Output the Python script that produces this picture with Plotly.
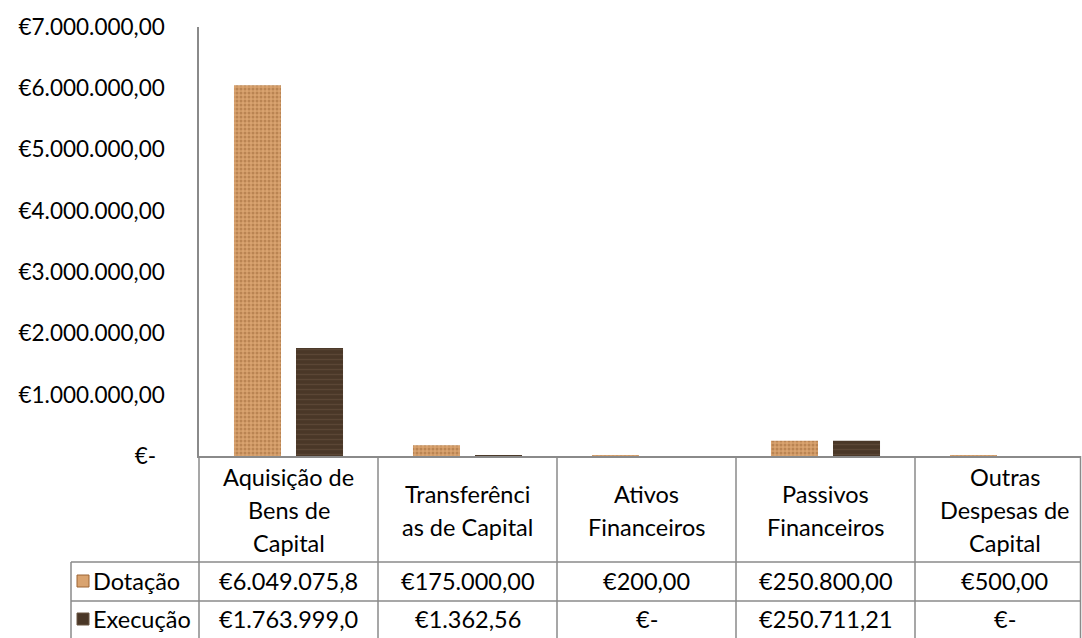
import plotly.graph_objects as go

# ---------------- data ----------------
categories = ["Aquisição de Bens de Capital", "Transferências de Capital",
              "Ativos Financeiros", "Passivos Financeiros", "Outras Despesas de Capital"]
category_lines = [["Aquisição de", "Bens de", "Capital"],
                  ["Transferênci", "as de Capital"],
                  ["Ativos", "Financeiros"],
                  ["Passivos", "Financeiros"],
                  ["Outras", "Despesas de", "Capital"]]
series_names = ["Dotação", "Execução"]
dotacao = [6049075.8, 175000.00, 200.00, 250800.00, 500.00]
execucao = [1763999.0, 1362.56, 0.0, 250711.21, 0.0]
dotacao_labels = ["€6.049.075,8", "€175.000,00", "€200,00", "€250.800,00", "€500,00"]
execucao_labels = ["€1.763.999,0", "€1.362,56", "€-", "€250.711,21", "€-"]
y_tick_values = [0, 1000000, 2000000, 3000000, 4000000, 5000000, 6000000, 7000000]
y_tick_labels = ["€-\u00a0\u2009", "€1.000.000,00", "€2.000.000,00", "€3.000.000,00",
                 "€4.000.000,00", "€5.000.000,00", "€6.000.000,00", "€7.000.000,00"]

# ---------------- layout geometry ----------------
W, H = 1082, 638
L, R, T, B = 199, 1, 27, 182
pw, ph = W - L - R, H - T - B
cat_px = 179.0
x_max = -0.5 + pw / cat_px


def py(Y):
    return (T + ph - Y) / ph


def px(X):
    return (X - L) / pw


FONT = "Lato, 'Open Sans', sans-serif"
TXT = 23.5
GRID = "#8a8a8a"
cork = dict(color="#D9A36F",
            pattern=dict(shape=".", fgcolor="#9C6535", size=4, solidity=0.45, fillmode="overlay"),
            line=dict(width=0))
wood = dict(color="#4A3727",
            pattern=dict(shape="-", fgcolor="#6B5643", size=5, solidity=0.25, fillmode="overlay"),
            line=dict(width=0))

fig = go.Figure()
fig.add_bar(x=categories, y=dotacao, name=series_names[0], marker=cork)
fig.add_bar(x=categories, y=execucao, name=series_names[1], marker=wood)

shapes = []
annotations = []

LEG_X = 71
row_lines = [562, 601]
row_centers = [581, 619]
for Y in row_lines:
    shapes.append(dict(type="line", xref="paper", yref="paper", x0=px(LEG_X), x1=1.0,
                       y0=py(Y), y1=py(Y), line=dict(color=GRID, width=1.5)))
for i in range(len(categories) + 1):
    xp = min(1.0, i / (x_max + 0.5))
    if xp == 1.0:
        xp = 1.0 - 0.5 / pw
    shapes.append(dict(type="line", xref="paper", yref="paper", x0=xp, x1=xp,
                       y0=py(456), y1=py(660), line=dict(color=GRID, width=1.5)))
shapes.append(dict(type="line", xref="paper", yref="paper", x0=px(LEG_X), x1=px(LEG_X),
                   y0=py(562), y1=py(660), line=dict(color=GRID, width=1.5)))

# header (category names)
line_gap = 33
for i, lines in enumerate(category_lines):
    n = len(lines)
    for k, t in enumerate(lines):
        Yc = 510 + (k - (n - 1) / 2) * line_gap
        annotations.append(dict(x=categories[i], xref="x", y=py(Yc), yref="paper", text=t,
                                showarrow=False, xanchor="center", yanchor="middle",
                                font=dict(family=FONT, size=TXT, color="#000000")))

# data rows with legend keys
for r, (labels, mk) in enumerate([(dotacao_labels, cork), (execucao_labels, wood)]):
    Yc = row_centers[r]
    for i, t in enumerate(labels):
        annotations.append(dict(x=categories[i], xref="x", y=py(Yc), yref="paper", text=t,
                                showarrow=False, xanchor="center", yanchor="middle",
                                font=dict(family=FONT, size=TXT, color="#000000")))
    shapes.append(dict(type="rect", xref="paper", yref="paper", x0=px(77), x1=px(89),
                       y0=py(Yc + 6), y1=py(Yc - 6), fillcolor=mk["color"],
                       line=dict(color=mk["pattern"]["fgcolor"], width=1)))
    annotations.append(dict(x=px(91), xref="paper", y=py(Yc), yref="paper", text=series_names[r],
                            showarrow=False, xanchor="left", yanchor="middle",
                            font=dict(family=FONT, size=TXT, color="#000000")))

fig.update_layout(
    width=W, height=H,
    margin=dict(l=L, r=R, t=T, b=B, pad=0),
    paper_bgcolor="#ffffff", plot_bgcolor="#ffffff",
    barmode="group", bargap=0.307, bargroupgap=0.242,
    showlegend=False,
    shapes=shapes, annotations=annotations,
    font=dict(family=FONT, size=TXT, color="#000000"),
)
fig.update_xaxes(range=[-0.5, x_max], showticklabels=False, showgrid=False,
                 showline=True, linecolor=GRID, linewidth=1.5, ticks="", zeroline=False)
fig.update_yaxes(range=[0, 7000000], tickvals=y_tick_values, ticktext=y_tick_labels,
                 showgrid=False, zeroline=False, showline=True, linecolor=GRID, linewidth=1.5,
                 ticks="", ticklabelstandoff=28, tickfont=dict(family=FONT, size=22.5, color="#000000"))

fig.write_html("out.html", config={"displayModeBar": False},
               post_script="document.body.style.margin='0px';document.body.style.overflow='hidden';")
